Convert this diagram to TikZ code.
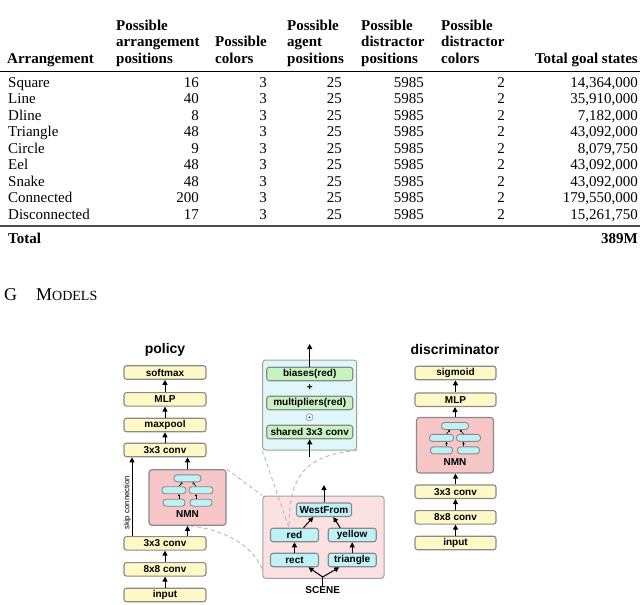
\documentclass[tikz,border=0pt]{standalone}
\usepackage{fontspec}
\setmainfont{Liberation Serif}
\newfontfamily\hv{Liberation Sans}
\usetikzlibrary{arrows.meta}
\pgfdeclarelayer{bg}
\pgfdeclarelayer{mid}
\pgfsetlayers{bg,mid,main}
\definecolor{bordc}{HTML}{8A8A8A}
\definecolor{yelc}{HTML}{FEF9C6}
\definecolor{grnc}{HTML}{C8F3C0}
\definecolor{cync}{HTML}{BEF2F7}
\definecolor{pinkc}{HTML}{F7C6C6}
\definecolor{pinkg}{HTML}{FBE1E1}
\definecolor{cyng}{HTML}{E0F7F9}
\newcommand\nmnblock[3]{%
  \node[nmnbox] (#1) at (#2,#3) {};
  \node[pill, minimum width=27pt] (#1-t) at (#2,{#3-19.2}) {};
  \node[pill] (#1-ml) at ({#2-13.5},{#3-7.3}) {};
  \node[pill] (#1-mr) at ({#2+13.5},{#3-7.3}) {};
  \node[pill, minimum width=22pt] (#1-bl) at ({#2-13.5},{#3+5.2}) {};
  \node[pill, minimum width=22pt] (#1-br) at ({#2+13.5},{#3+5.2}) {};
  \node[lbl] (#1-lbl) at (#2,{#3+17}) {NMN};
  \draw[tarr] ([xshift=5pt]#1-ml.north) -- ([xshift=-5pt]#1-t.south);
  \draw[tarr] ([xshift=-5pt]#1-mr.north) -- ([xshift=5pt]#1-t.south);
  \draw[tarr] ([xshift=5pt]#1-bl.north) -- ([xshift=5pt]#1-ml.south);
  \draw[tarr] ([xshift=-5pt]#1-br.north) -- ([xshift=-5pt]#1-mr.south);
}
\begin{document}
\begin{tikzpicture}[x=1pt,y=-1pt,
  tb/.style={font=\fontsize{15}{16.5}\selectfont, inner sep=0pt},
  th/.style={font=\fontsize{15}{16.5}\selectfont\bfseries, inner sep=0pt, anchor=base west},
  bx/.style={draw=bordc, line width=1.1pt, rounded corners=2.5pt, minimum width=82pt, minimum height=13.5pt, inner sep=0pt, font=\hv\bfseries\fontsize{10}{11}\selectfont},
  yb/.style={bx, fill=yelc},
  gb/.style={bx, fill=grnc, minimum width=86pt},
  cb/.style={bx, fill=cync, minimum width=48pt},
  pill/.style={draw=bordc, line width=0.9pt, fill=cync, rounded corners=3pt, minimum width=24pt, minimum height=7pt, inner sep=0pt},
  nmnbox/.style={draw=bordc, line width=1.2pt, fill=pinkc, rounded corners=3pt, minimum width=77pt, minimum height=55.5pt, inner sep=0pt},
  grp/.style={draw=bordc!80, line width=1pt, rounded corners=3pt, inner sep=0pt},
  lbl/.style={font=\hv\bfseries\fontsize{10}{11}\selectfont, inner sep=0pt},
  arr/.style={-{Triangle[length=5pt,width=5pt]}, line width=1pt},
  tarr/.style={-{Triangle[length=2pt,width=2.2pt]}, line width=0.6pt},
  dsh/.style={draw=gray!55, dash pattern=on 4pt off 3pt, line width=0.9pt},
  ttl/.style={font=\hv\bfseries\fontsize{14}{16}\selectfont, inner sep=0pt}
]
\useasboundingbox (0,0) rectangle (640,605);
% ---------------- table ----------------
\node[th] (h1) at (7,63) {Arrangement};
\node[th] (h2a) at (116,30) {Possible};
\node[th] (h2b) at (116,46.5) {arrangement};
\node[th] (h2c) at (116,63) {positions};
\node[th] (h3a) at (215,46.5) {Possible};
\node[th] (h3b) at (215,63) {colors};
\node[th] (h4a) at (287,30) {Possible};
\node[th] (h4b) at (287,46.5) {agent};
\node[th] (h4c) at (287,63) {positions};
\node[th] (h5a) at (361,30) {Possible};
\node[th] (h5b) at (361,46.5) {distractor};
\node[th] (h5c) at (361,63) {positions};
\node[th] (h6a) at (441,30) {Possible};
\node[th] (h6b) at (441,46.5) {distractor};
\node[th] (h6c) at (441,63) {colors};
\node[th, anchor=base east] (h7) at (638,63) {Total goal states};
\draw[line width=0.7pt] (0,71) -- (640,71);
\foreach \nm/\a/\tot [count=\i] in {Square/16/{14,364,000}, Line/40/{35,910,000}, Dline/8/{7,182,000}, Triangle/48/{43,092,000}, Circle/9/{8,079,750}, Eel/48/{43,092,000}, Snake/48/{43,092,000}, Connected/200/{179,550,000}, Disconnected/17/{15,261,750}}{
  \node[tb, anchor=base west] (r\i-n) at (8,{87+(\i-1)*16.5}) {\nm};
  \node[tb, anchor=base east] (r\i-a) at (199,{87+(\i-1)*16.5}) {\a};
  \node[tb, anchor=base east] (r\i-c) at (267,{87+(\i-1)*16.5}) {3};
  \node[tb, anchor=base east] (r\i-g) at (342,{87+(\i-1)*16.5}) {25};
  \node[tb, anchor=base east] (r\i-d) at (424,{87+(\i-1)*16.5}) {5985};
  \node[tb, anchor=base east] (r\i-e) at (505,{87+(\i-1)*16.5}) {2};
  \node[tb, anchor=base east] (r\i-t) at (638,{87+(\i-1)*16.5}) {\tot};
}
\draw[line width=1.7pt, black!70] (0,226) -- (640,226);
\node[th] (tot) at (8,243) {Total};
\node[th, anchor=base east] (totv) at (638,243) {389M};
% ---------------- section heading ----------------
\node[anchor=base west, inner sep=0pt, font=\fontsize{18}{20}\selectfont] (gsec) at (4,300) {G};
\node[anchor=base west, inner sep=0pt] (models) at (36,300) {{\fontsize{18}{20}\selectfont M}{\fontsize{14}{16}\selectfont ODELS}};
% ---------------- group boxes ----------------
\begin{pgfonlayer}{bg}
\node[grp, fill=cyng, minimum width=94pt, minimum height=90pt] (topg) at (309.7,405) {};
\node[grp, fill=pinkg, minimum width=121.3pt, minimum height=82.3pt] (lowg) at (323.4,537.2) {};
\end{pgfonlayer}
% ---------------- policy ----------------
\node[ttl] (ptitle) at (165,350) {policy};
\node[yb] (psoft) at (165,372.5) {softmax};
\node[yb] (pmlp) at (165,399.3) {MLP};
\node[yb] (ppool) at (165,425) {maxpool};
\node[yb] (pc3u) at (165,450) {3x3 conv};
\nmnblock{nmnP}{187.5}{497.5}
\node[yb] (pc3l) at (165,543.3) {3x3 conv};
\node[yb] (pc8) at (165,569.3) {8x8 conv};
\node[yb] (pin) at (165,595) {input};
\draw[arr] (pin) -- (pc8);
\draw[arr] (pc8) -- (pc3l);
\draw[arr] ([xshift=22.5pt]pc3l.north) -- (nmnP.south);
\draw[arr] (nmnP.north) -- (nmnP.north |- pc3u.south);
\draw[arr] ([xshift=-33pt]pc3l.north) -- ([xshift=-33pt]pc3u.south);
\node[rotate=90, inner sep=0pt, font=\hv\fontsize{7.8}{8}\selectfont] (skip) at (127.3,502.7) {skip connection};
\draw[arr] (pc3u) -- (ppool);
\draw[arr] (ppool) -- (pmlp);
\draw[arr] (pmlp) -- (psoft);
% ---------------- discriminator ----------------
\node[ttl] (dtitle) at (455,349) {discriminator};
\node[yb, minimum width=81pt] (dsig) at (455.5,373) {sigmoid};
\node[yb, minimum width=81pt] (dmlp) at (455.5,399.7) {MLP};
\nmnblock{nmnD}{455}{445.2}
\node[yb, minimum width=81pt] (dc3) at (455.5,491.7) {3x3 conv};
\node[yb, minimum width=81pt] (dc8) at (455.5,517.3) {8x8 conv};
\node[yb, minimum width=81pt] (din) at (455.5,543) {input};
\draw[arr] (din) -- (dc8);
\draw[arr] (dc8) -- (dc3);
\draw[arr] (dc3.north) -- (dc3.north |- nmnD.south);
\draw[arr] (nmnD.north) -- (nmnD.north |- dmlp.south);
\draw[arr] (dmlp) -- (dsig);
% ---------------- expanded module ----------------
\node[gb] (bias) at (309.7,374) {biases(red)};
\node[lbl] (plus) at (309.7,388) {+};
\node[gb] (mult) at (309.7,403) {multipliers(red)};
\node[inner sep=0pt, font=\fontsize{11}{12}\selectfont] (odot) at (309.7,418) {$\odot$};
\node[gb] (shared) at (309.7,432) {shared 3x3 conv};
\coordinate (btop) at (309.7,344);
\coordinate (sin) at (309.7,457);
\draw[arr] (bias.north) -- (btop);
\draw[arr] (sin) -- (shared.south);
% ---------------- program ----------------
\node[cb, minimum width=55pt] (west) at (324,509.7) {WestFrom};
\node[cb] (red) at (294.5,535) {red};
\node[cb] (yellow) at (352.2,535) {yellow};
\node[cb] (rect) at (294.5,560) {rect};
\node[cb] (tri) at (352.2,560) {triangle};
\node[lbl] (scene) at (322.7,590) {SCENE};
\coordinate (wtop) at (324,485);
\coordinate (fork) at (322.7,577);
\draw[arr] (west.north) -- (wtop);
\draw[arr] ([xshift=9pt]red.north) -- ([xshift=-10.7pt]west.south);
\draw[arr] ([xshift=-12pt]yellow.north) -- ([xshift=9.3pt]west.south);
\draw[arr] (rect) -- (red);
\draw[arr] (tri) -- (yellow);
\draw[line width=1pt] (scene.north) -- (fork);
\draw[arr] (fork) -- ([xshift=14pt]rect.south);
\draw[arr] (fork) -- ([xshift=-13pt]tri.south);
% ---------------- dashed links ----------------
\begin{pgfonlayer}{mid}
\draw[dsh] (topg.south west) -- ([xshift=-5.5pt]red.north);
\draw[dsh] (topg.south east) .. controls (300,455) and (289,482) .. ([xshift=-5.5pt]red.north);
\draw[dsh] (nmnP.north east) -- (lowg.north west);
\draw[dsh] ([xshift=2.5pt]nmnP.south) .. controls (225,530) and (252,545) .. ([yshift=10pt]lowg.south west);
\end{pgfonlayer}
\end{tikzpicture}
\end{document}
